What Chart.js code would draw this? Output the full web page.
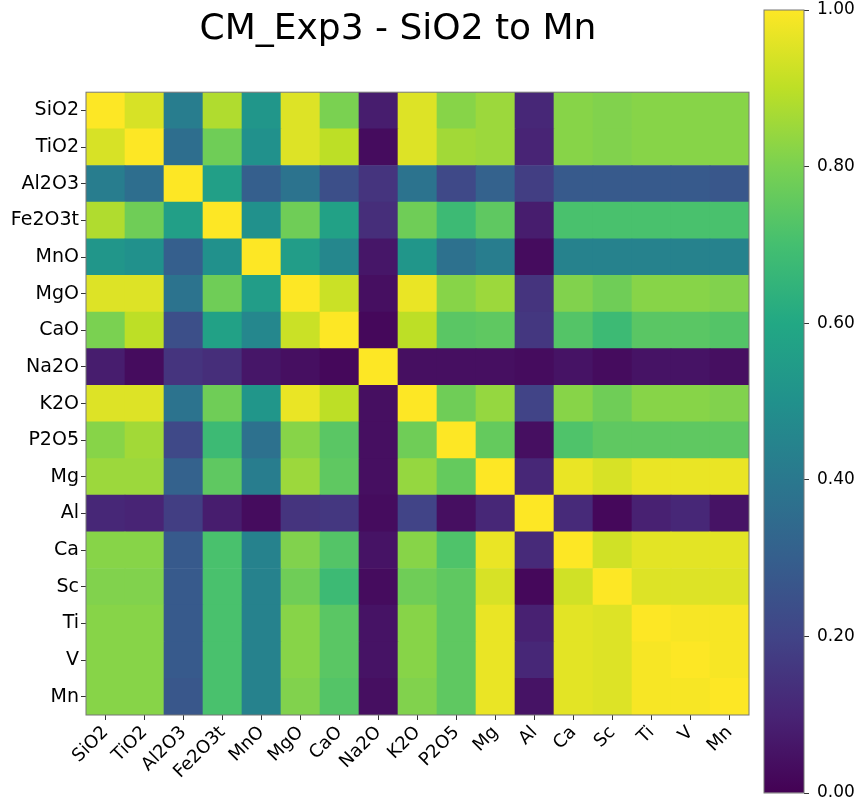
<!DOCTYPE html>
<html>
<head>
<meta charset="utf-8">
<script src="https://cdn.jsdelivr.net/npm/chart.js@4"></script>
<style>
  body { margin: 0; background: #fff; }
  #heat { position: absolute; left: 0; top: 0; }
  #cbar { position: absolute; left: 740px; top: 0; }
</style>
</head>
<body>
<canvas id="heat" width="858" height="802"></canvas>
<canvas id="cbar" width="118" height="802"></canvas>
<script>
// 0. Data
const labels = ["SiO2", "TiO2", "Al2O3", "Fe2O3t", "MnO", "MgO", "CaO", "Na2O", "K2O", "P2O5", "Mg", "Al", "Ca", "Sc", "Ti", "V", "Mn"];
const barTicks = [0, 0.2, 0.4, 0.6, 0.8, 1.0];

// one row per label, columns in the same order
const corr = [
    [1.00, 0.94, 0.42, 0.88, 0.52, 0.95, 0.80, 0.08, 0.95, 0.82, 0.85, 0.11, 0.82, 0.81, 0.82, 0.82, 0.82], // SiO2
    [0.94, 1.00, 0.36, 0.78, 0.50, 0.95, 0.90, 0.03, 0.95, 0.86, 0.85, 0.10, 0.82, 0.81, 0.82, 0.82, 0.82], // TiO2
    [0.42, 0.36, 1.00, 0.56, 0.30, 0.38, 0.24, 0.15, 0.38, 0.22, 0.31, 0.18, 0.28, 0.28, 0.28, 0.28, 0.27], // Al2O3
    [0.88, 0.78, 0.56, 1.00, 0.50, 0.78, 0.57, 0.13, 0.78, 0.68, 0.75, 0.08, 0.71, 0.71, 0.71, 0.71, 0.71], // Fe2O3t
    [0.52, 0.50, 0.30, 0.50, 1.00, 0.55, 0.46, 0.06, 0.52, 0.37, 0.42, 0.03, 0.44, 0.44, 0.44, 0.44, 0.44], // MnO
    [0.95, 0.95, 0.38, 0.78, 0.55, 1.00, 0.92, 0.04, 0.97, 0.82, 0.85, 0.15, 0.81, 0.78, 0.82, 0.82, 0.81], // MgO
    [0.80, 0.90, 0.24, 0.57, 0.46, 0.92, 1.00, 0.02, 0.90, 0.74, 0.75, 0.16, 0.73, 0.68, 0.74, 0.74, 0.73], // CaO
    [0.08, 0.03, 0.15, 0.13, 0.06, 0.04, 0.02, 1.00, 0.04, 0.04, 0.04, 0.03, 0.05, 0.03, 0.05, 0.05, 0.04], // Na2O
    [0.95, 0.95, 0.38, 0.78, 0.52, 0.97, 0.90, 0.04, 1.00, 0.78, 0.84, 0.20, 0.82, 0.78, 0.82, 0.82, 0.81], // K2O
    [0.82, 0.86, 0.22, 0.68, 0.37, 0.82, 0.74, 0.04, 0.78, 1.00, 0.76, 0.04, 0.72, 0.75, 0.75, 0.75, 0.75], // P2O5
    [0.85, 0.85, 0.31, 0.75, 0.42, 0.85, 0.75, 0.04, 0.84, 0.76, 1.00, 0.11, 0.97, 0.94, 0.97, 0.97, 0.97], // Mg
    [0.11, 0.10, 0.18, 0.08, 0.03, 0.15, 0.16, 0.03, 0.20, 0.04, 0.11, 1.00, 0.12, 0.02, 0.09, 0.11, 0.05], // Al
    [0.82, 0.82, 0.28, 0.71, 0.44, 0.81, 0.73, 0.05, 0.82, 0.72, 0.97, 0.12, 1.00, 0.93, 0.96, 0.96, 0.96], // Ca
    [0.81, 0.81, 0.28, 0.71, 0.44, 0.78, 0.68, 0.03, 0.78, 0.75, 0.94, 0.02, 0.93, 1.00, 0.95, 0.95, 0.95], // Sc
    [0.82, 0.82, 0.28, 0.71, 0.44, 0.82, 0.74, 0.05, 0.82, 0.75, 0.97, 0.09, 0.96, 0.95, 1.00, 0.99, 0.99], // Ti
    [0.82, 0.82, 0.28, 0.71, 0.44, 0.82, 0.74, 0.05, 0.82, 0.75, 0.97, 0.11, 0.96, 0.95, 0.99, 1.00, 0.99], // V
    [0.82, 0.82, 0.27, 0.71, 0.44, 0.81, 0.73, 0.04, 0.81, 0.75, 0.97, 0.05, 0.96, 0.95, 0.99, 0.99, 1.00]  // Mn
];

// 1. Viridis colour map
const viridis = [
    [68, 1, 84], [72, 36, 117], [65, 68, 135], [53, 95, 141], [42, 120, 142], [33, 145, 140],
    [34, 168, 132], [68, 191, 112], [122, 209, 81], [189, 223, 38], [253, 231, 37]
];
const colorOf = v => {
    const t = Math.min(Math.max(v, 0), 1) * (viridis.length - 1);
    const i = Math.min(Math.floor(t), viridis.length - 2);
    const f = t - i;
    const c = viridis[i].map((a, k) => Math.round(a + (viridis[i + 1][k] - a) * f));
    return `rgb(${c[0]},${c[1]},${c[2]})`;
};

const font = "'DejaVu Sans', sans-serif";
const n = labels.length;

// frame around the plot area (matplotlib spines)
const frame = {
    id: "frame",
    afterDatasetsDraw(chart) {
        const {ctx, chartArea: a} = chart;
        ctx.save();
        ctx.strokeStyle = "#777";
        ctx.lineWidth = 1;
        ctx.strokeRect(a.left, a.top, a.right - a.left, a.bottom - a.top);
        ctx.restore();
    }
};

// 2. Heatmap: one stacked dataset per row, bottom row first
const datasets = corr.map((row, r) => ({
    label: labels[r],
    data: row.map(() => 1),
    backgroundColor: row.map(colorOf),
    borderWidth: 0,
    barPercentage: 1,
    categoryPercentage: 1
})).reverse();

new Chart(document.getElementById("heat"), {
    type: "bar",
    data: { labels: labels, datasets: datasets },
    plugins: [frame],
    options: {
        responsive: false,
        animation: false,
        layout: { padding: { left: 0, right: 62, top: 1, bottom: 0 } },
        plugins: {
            legend: { display: false },
            tooltip: { enabled: false },
            title: {
                display: true,
                text: "CM_Exp3 - SiO2 to Mn",
                color: "#000",
                font: { family: font, size: 36, weight: "normal" },
                padding: { top: 7, bottom: 41 }
            }
        },
        scales: {
            x: {
                stacked: true,
                grid: { offset: false, drawOnChartArea: false, tickLength: 5, color: "#333" },
                border: { display: false },
                ticks: { color: "#000", font: { family: font, size: 18 }, minRotation: 45, maxRotation: 45, padding: 2 },
                afterFit: axis => { axis.height = 87; }
            },
            y: {
                stacked: true,
                min: 0,
                max: n,
                grid: { drawOnChartArea: false, tickLength: 5, color: "#333" },
                border: { display: false },
                afterBuildTicks: axis => { axis.ticks = labels.map((_, i) => ({ value: n - 0.5 - i })); },
                ticks: {
                    color: "#000",
                    font: { family: font, size: 19 },
                    padding: 2,
                    callback: v => labels[Math.round(n - 0.5 - v)]
                },
                afterFit: axis => { axis.width = 86; }
            },
            // empty right axis: keeps the title centred where the reference has it
            yRight: {
                position: "right",
                min: 0,
                max: n,
                grid: { display: false },
                border: { display: false },
                ticks: { display: false },
                afterFit: axis => { axis.width = 47; }
            }
        }
    }
});

// 3. Colour bar
new Chart(document.getElementById("cbar"), {
    type: "bar",
    data: {
        labels: [""],
        datasets: [{
            data: [barTicks[barTicks.length - 1]],
            borderWidth: 0,
            barPercentage: 1,
            categoryPercentage: 1,
            backgroundColor: context => {
                const {ctx, chartArea} = context.chart;
                if (!chartArea) return null;
                const g = ctx.createLinearGradient(0, chartArea.bottom, 0, chartArea.top);
                viridis.forEach((c, i) => g.addColorStop(i / (viridis.length - 1), `rgb(${c[0]},${c[1]},${c[2]})`));
                return g;
            }
        }]
    },
    plugins: [frame],
    options: {
        responsive: false,
        animation: false,
        layout: { padding: { left: 24, right: 0, top: 10, bottom: 9 } },
        plugins: { legend: { display: false }, tooltip: { enabled: false } },
        scales: {
            x: { display: false },
            y: {
                position: "right",
                min: barTicks[0],
                max: barTicks[barTicks.length - 1],
                grid: { drawOnChartArea: false, tickLength: 5, color: "#333" },
                border: { display: false },
                afterBuildTicks: axis => { axis.ticks = barTicks.map(v => ({ value: v })); },
                ticks: { color: "#000", font: { family: font, size: 17 }, padding: 8, callback: v => v.toFixed(2) },
                afterFit: axis => { axis.width = 54; axis.paddingTop = 0; axis.paddingBottom = 0; }
            }
        }
    }
});
</script>
</body>
</html>
